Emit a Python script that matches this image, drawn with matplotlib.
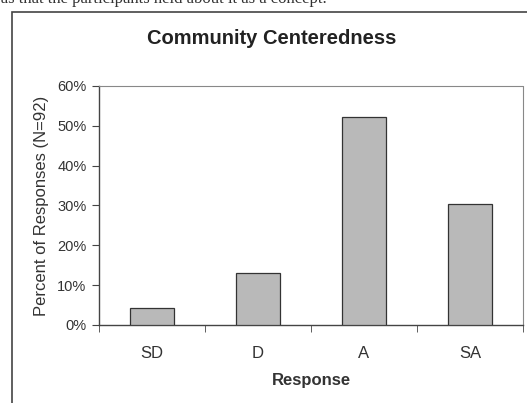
import numpy as np
import matplotlib.pyplot as plt
from matplotlib.patches import Rectangle

# Valori (percentuali, N=92)
categorie = ['SD', 'D', 'A', 'SA']
percentuali = [4.3, 13.0, 52.2, 30.4]
tick_y = [0, 10, 20, 30, 40, 50, 60]

plt.rcParams['font.family'] = ['Liberation Sans', 'DejaVu Sans']

fig = plt.figure(figsize=(5.27, 4.03), dpi=100)
W, H = 527.0, 403.0

# cornice esterna
fig.patches.append(Rectangle((12/W, -0.05), 1.2, 1 - 12/H + 0.05, transform=fig.transFigure,
                             fill=False, edgecolor='#444444', linewidth=1.2))

# testo tagliato in alto
fig.text(327/W, 1 + 1/H, 'the ideas that the participants held about it as a concept.',
         ha='right', va='center', family='Liberation Serif', fontsize=12, color='#333333')

ax = fig.add_axes([99/W, 1 - 325/H, (523 - 99)/W, (325 - 86)/H])

x = np.arange(len(categorie))
ax.bar(x, percentuali, width=0.41, color='#b9b9b9', edgecolor='#333333', linewidth=0.9, zorder=3)

ax.set_xlim(-0.5, len(categorie) - 0.5)
ax.set_ylim(0, 60)
ax.set_yticks(tick_y)
ax.set_yticklabels(['%d%%' % t for t in tick_y], fontsize=10.5, color='#333333')
ax.set_xticks(x)
ax.set_xticklabels(categorie, fontsize=12, color='#333333')
ax.tick_params(axis='x', length=0, pad=15)
ax.set_xticks(np.arange(len(categorie) + 1) - 0.5, minor=True)
ax.tick_params(axis='x', which='minor', length=5, direction='out', color='#444444')
ax.tick_params(axis='y', length=5, direction='out', color='#444444', pad=4)

for s in ['left', 'bottom']:
    ax.spines[s].set_color('#444444')
    ax.spines[s].set_linewidth(1.0)
for s in ['top', 'right']:
    ax.spines[s].set_color('#888888')
    ax.spines[s].set_linestyle((0, (1, 1)))
    ax.spines[s].set_linewidth(0.8)

ax.set_xlabel('Response', fontsize=12, fontweight='bold', color='#333333', labelpad=9)
ax.set_ylabel('Percent of Responses (N=92)', fontsize=12, color='#333333', labelpad=6)

fig.text(272/W, 1 - 39/H, 'Community Centeredness', ha='center', va='center',
         fontsize=14.5, fontweight='bold', color='#222222')

fig.savefig('out.png', dpi=100)
